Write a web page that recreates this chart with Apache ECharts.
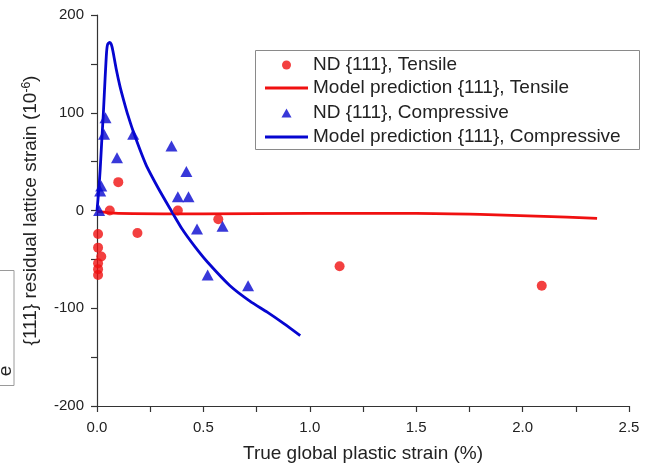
<!DOCTYPE html>
<html>
<head>
<meta charset="utf-8">
<script src="https://cdn.jsdelivr.net/npm/echarts@6/dist/echarts.min.js"></script>
<style>
  html, body { margin: 0; padding: 0; background: #fff; }
  #chart { width: 648px; height: 468px; }
</style>
</head>
<body>
<div id="chart"></div>
<script>
// measured points [strain %, residual strain 1e-6]
var tensileND = [
  [0.005, -24], [0.005, -38], [0.02, -47], [0.005, -54], [0.005, -60], [0.005, -66],
  [0.06, 0], [0.10, 29], [0.19, -23], [0.38, 0], [0.57, -9], [1.14, -57], [2.09, -77]
];
var tensileModel = [
  [0, -1], [0.1, -3], [0.5, -3.5], [1.0, -3], [1.5, -3], [1.8, -4], [2.1, -6], [2.35, -8]
];
var compressiveND = [
  [0.01, 0], [0.015, 20], [0.02, 25], [0.033, 78], [0.04, 95], [0.094, 54], [0.17, 78],
  [0.35, 66], [0.38, 14], [0.43, 14], [0.42, 40], [0.47, -19], [0.59, -16], [0.52, -66], [0.71, -77]
];
var compressiveModel = [
  [0, 0], [0.008, 20], [0.015, 42], [0.022, 70], [0.03, 100], [0.038, 135], [0.045, 162],
  [0.05, 170], [0.06, 172], [0.067, 170], [0.075, 163], [0.09, 145], [0.108, 127],
  [0.125, 113], [0.146, 97], [0.175, 78], [0.23, 47], [0.29, 22], [0.343, 2],
  [0.40, -19], [0.46, -37], [0.52, -53], [0.625, -77], [0.72, -93], [0.80, -104],
  [0.88, -116], [0.955, -128]
];
var xTicks = [0, 0.5, 1.0, 1.5, 2.0, 2.5];
var yTicks = [-200, -100, 0, 100, 200];

var names = [
  'ND {111}, Tensile',
  'Model prediction {111}, Tensile',
  'ND {111}, Compressive',
  'Model prediction {111}, Compressive'
];

var RED = '#f01010';
var BLUE = '#0606d0';
var FONT = 'Liberation Sans, Arial, sans-serif';

// legend box places content by its bounding rect, so narrow icons need the left shifted
function legendRow(name, icon, centerY, h, iconW) {
  return {
    data: [{ name: name, icon: icon }],
    left: 265 + (43 - iconW) / 2,
    top: centerY - 10,
    orient: 'vertical',
    padding: 0,
    itemWidth: 43,
    itemHeight: h,
    itemGap: 0,
    symbolKeepAspect: true,
    selectedMode: false,
    textStyle: { fontFamily: FONT, fontSize: 19, lineHeight: 20, color: '#222' }
  };
}

var chart = echarts.init(document.getElementById('chart'), null, { renderer: 'canvas' });

var option = {
  backgroundColor: '#fff',
  animation: false,
  grid: { left: 97, right: 19, top: 15, bottom: 62 },
  legend: [
    legendRow(names[0], 'circle', 65, 9, 9),
    legendRow(names[1], 'rect', 88, 3, 43),
    legendRow(names[2], 'path://M5,0 L10,9 L0,9 Z', 113, 9, 10),
    legendRow(names[3], 'rect', 137, 3, 43)
  ],
  graphic: [
    {
      type: 'rect',
      shape: { x: 255.5, y: 50.5, width: 384, height: 99 },
      style: { fill: 'none', stroke: '#8a8a8a', lineWidth: 1 },
      silent: true
    },
    {
      type: 'rect',
      shape: { x: -1, y: 270.5, width: 15, height: 115 },
      style: { fill: 'none', stroke: '#9a9a9a', lineWidth: 1 },
      silent: true
    },
    {
      type: 'text',
      x: 15,
      y: 371,
      rotation: Math.PI / 2,
      style: { text: 'e', fontFamily: FONT, fontSize: 19, fill: '#222', align: 'center', verticalAlign: 'bottom' },
      silent: true
    }
  ],
  xAxis: {
    type: 'value',
    min: xTicks[0],
    max: xTicks[xTicks.length - 1],
    interval: 0.5,
    name: 'True global plastic strain (%)',
    nameLocation: 'middle',
    nameGap: 38,
    nameTextStyle: { fontFamily: FONT, fontSize: 19, color: '#222' },
    axisLine: { show: true, onZero: false, lineStyle: { color: '#333', width: 1.2 } },
    axisTick: { show: true, inside: false, length: 6, lineStyle: { color: '#333', width: 1.2 } },
    minorTick: { show: true, splitNumber: 2, length: 6, lineStyle: { color: '#333', width: 1.2 } },
    splitLine: { show: false },
    axisLabel: {
      margin: 14,
      fontFamily: FONT, fontSize: 15, color: '#222',
      formatter: function (v) { return v.toFixed(1); }
    }
  },
  yAxis: {
    type: 'value',
    min: yTicks[0],
    max: yTicks[yTicks.length - 1],
    interval: 100,
    name: '{111} residual lattice strain (10{sup|-6})',
    nameLocation: 'middle',
    nameGap: 55,
    nameTextStyle: {
      fontFamily: FONT, fontSize: 19, color: '#222',
      rich: {
        sup: { fontFamily: FONT, fontSize: 12, color: '#222', verticalAlign: 'top', lineHeight: 12, padding: [0, 0, 10, 0] }
      }
    },
    axisLine: { show: true, onZero: false, lineStyle: { color: '#333', width: 1.2 } },
    axisTick: { show: true, inside: false, length: 6, lineStyle: { color: '#333', width: 1.2 } },
    minorTick: { show: true, splitNumber: 2, length: 6, lineStyle: { color: '#333', width: 1.2 } },
    splitLine: { show: false },
    axisLabel: { margin: 13, fontFamily: FONT, fontSize: 15, color: '#222' }
  },
  series: [
    {
      name: names[0],
      type: 'scatter',
      data: tensileND,
      symbol: 'circle',
      symbolSize: 10,
      itemStyle: { color: RED },
      z: 4
    },
    {
      name: names[1],
      type: 'line',
      data: tensileModel,
      symbol: 'none',
      smooth: 0.3,
      lineStyle: { color: RED, width: 2.8 },
      itemStyle: { color: RED },
      z: 2
    },
    {
      name: names[2],
      type: 'scatter',
      data: compressiveND,
      symbol: 'triangle',
      symbolSize: [12, 11],
      itemStyle: { color: BLUE },
      z: 4
    },
    {
      name: names[3],
      type: 'line',
      data: compressiveModel,
      symbol: 'none',
      smooth: 0.2,
      lineStyle: { color: BLUE, width: 2.8, join: 'round' },
      itemStyle: { color: BLUE },
      z: 3
    }
  ]
};

chart.setOption(option);
window.addEventListener('resize', chart.resize);
</script>
</body>
</html>
